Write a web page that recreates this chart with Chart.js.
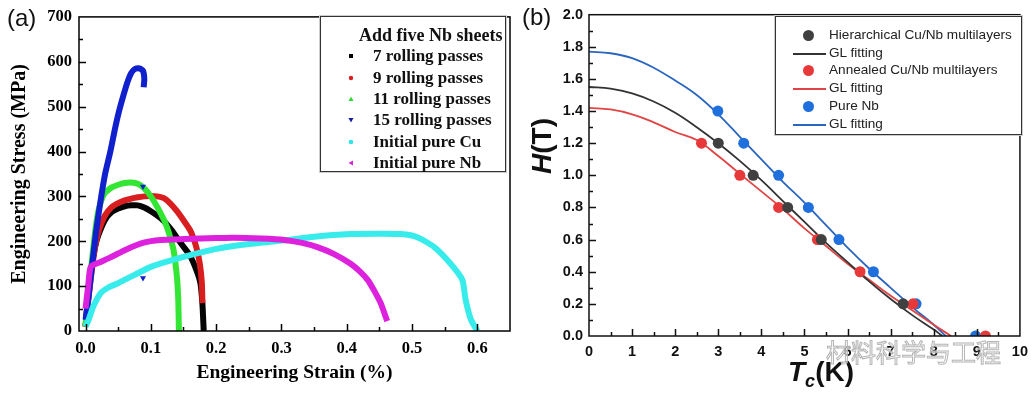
<!DOCTYPE html>
<html>
<head>
<meta charset="utf-8">
<script src="https://cdn.jsdelivr.net/npm/chart.js@4.4.0/dist/chart.umd.min.js"></script>
<style>
  body { margin: 0; background: #fff; }
  #wrap { position: relative; width: 1035px; height: 397px; overflow: hidden; }
  canvas { position: absolute; top: 0; }
  .lab { position: absolute; font-family: 'Liberation Sans', Arial, sans-serif; font-size: 24px; color: #111; }
  .leg { position: absolute; background: #fff; border: 1px solid #333; box-shadow: 0 0 0 1px #ccc; }
  .legA .row { position: absolute; left: 52px; height: 20px; line-height: 20px; font: bold 17px 'Liberation Serif', serif; color: #111; white-space: nowrap; }
  .legA .ttl { position: absolute; left: 38px; top: 8px; font: bold 18px 'Liberation Serif', serif; color: #111; white-space: nowrap; }
  .legA svg { position: absolute; left: 26px; width: 8px; height: 8px; }
  .legB .row { position: absolute; left: 53px; height: 18px; line-height: 18px; font: 13.6px 'Liberation Sans', Arial, sans-serif; color: #222; white-space: nowrap; }
  .legB .dot { position: absolute; left: 27px; width: 11px; height: 11px; border-radius: 50%; }
  .legB .ln { position: absolute; left: 17px; width: 33px; height: 2px; }
  .ttlB { position: absolute; font: bold 28px 'Liberation Sans', Arial, sans-serif; color: #111; white-space: nowrap; }
  .wm { position: absolute; left: 826px; top: 333px; font: 25px 'Noto Sans CJK SC', sans-serif; color: rgba(255,255,255,0.6); -webkit-text-stroke: 1px #b5b5b5; white-space: nowrap; letter-spacing: 0px; }
</style>
</head>
<body>
<div id="wrap">
  <canvas id="chartA" width="520" height="397" style="left:0"></canvas>
  <canvas id="chartB" width="515" height="397" style="left:520px"></canvas>

  <div class="lab" style="left:7px;top:4px">(a)</div>
  <div class="lab" style="left:522px;top:3px">(b)</div>

  <div class="leg legA" style="left:320px;top:16px;width:184px;height:154px">
    <div class="ttl">Add five Nb sheets</div>
    <svg style="top:35px" viewBox="0 0 8 8"><rect x="2" y="2" width="4" height="4" fill="#000"/></svg>
    <div class="row" style="top:29px">7 rolling passes</div>
    <svg style="top:57px" viewBox="0 0 8 8"><circle cx="4" cy="4" r="2.2" fill="#d81e1e"/></svg>
    <div class="row" style="top:51px">9 rolling passes</div>
    <svg style="top:78px" viewBox="0 0 8 8"><polygon points="4,1.5 6.5,6 1.5,6" fill="#2fdc2f"/></svg>
    <div class="row" style="top:72px">11 rolling passes</div>
    <svg style="top:99px" viewBox="0 0 8 8"><polygon points="1.5,2 6.5,2 4,6.5" fill="#151a9a"/></svg>
    <div class="row" style="top:93px">15 rolling passes</div>
    <svg style="top:121px" viewBox="0 0 8 8"><circle cx="4" cy="4" r="2.3" fill="#2ee6e6"/></svg>
    <div class="row" style="top:115px">Initial pure Cu</div>
    <svg style="top:142px" viewBox="0 0 8 8"><polygon points="1.5,4 6,1.5 6,6.5" fill="#d524d5"/></svg>
    <div class="row" style="top:136px">Initial pure Nb</div>
  </div>

  <div class="leg legB" style="left:775px;top:16px;width:245px;height:117px">
    <div class="dot" style="top:13px;background:#404040"></div>
    <div class="row" style="top:10px">Hierarchical Cu/Nb multilayers</div>
    <div class="ln" style="top:36px;background:#333"></div>
    <div class="row" style="top:28px">GL fitting</div>
    <div class="dot" style="top:48px;background:#e8393a"></div>
    <div class="row" style="top:45px">Annealed Cu/Nb multilayers</div>
    <div class="ln" style="top:71px;background:#e04444"></div>
    <div class="row" style="top:63px">GL fitting</div>
    <div class="dot" style="top:84px;background:#1f6fdc"></div>
    <div class="row" style="top:81px">Pure Nb</div>
    <div class="ln" style="top:107px;background:#2a66c0"></div>
    <div class="row" style="top:99px">GL fitting</div>
  </div>

  <div class="ttlB" style="left:514px;top:130px;transform:rotate(-90deg);transform-origin:28px 16px"><i>H</i>(T)</div>
  <div class="ttlB" style="left:788px;top:356px"><i>T</i><sub style="font-size:18px;vertical-align:-6px"><i>c</i></sub>(K)</div>

  <div class="wm">材料科学与工程</div>
</div>

<script>
// panel (a): engineering strain (%) vs engineering stress (MPa), [strain, stress]
const pass7 = [[0,10],[0.005,90],[0.01,150],[0.015,190],[0.02,215],[0.03,248],[0.04,265],[0.05,273],[0.06,278],[0.07,280],[0.08,280],[0.09,275],[0.1,267],[0.11,257],[0.12,245],[0.13,228],[0.14,208],[0.15,188],[0.16,168],[0.17,135],[0.176,106],[0.179,60],[0.181,0]]
const pass9 = [[0,10],[0.005,80],[0.01,140],[0.015,190],[0.02,222],[0.03,258],[0.04,276],[0.05,285],[0.06,291],[0.07,295],[0.08,298],[0.09,300],[0.1,301],[0.11,300],[0.12,296],[0.13,284],[0.14,267],[0.15,247],[0.16,225],[0.165,208],[0.17,185],[0.175,150],[0.178,110],[0.179,62]]
const pass11 = [[0,10],[0.005,90],[0.01,160],[0.015,225],[0.02,270],[0.026,298],[0.03,308],[0.04,320],[0.05,326],[0.06,330],[0.07,331],[0.08,328],[0.09,318],[0.1,300],[0.11,276],[0.12,248],[0.125,230],[0.13,207],[0.135,179],[0.14,120],[0.142,70],[0.143,0]]
const pass15 = [[0,25],[0.005,80],[0.01,145],[0.016,220],[0.023,290],[0.03,350],[0.038,400],[0.045,450],[0.051,488],[0.058,525],[0.064,554],[0.07,575],[0.076,584],[0.083,585],[0.088,580],[0.09,562],[0.089,543]]
const pass15Marks = [[0.088,322],[0.088,118]]
const pureCu = [[0,10],[0.005,26],[0.012,55],[0.023,84],[0.035,97],[0.049,106],[0.075,125],[0.1,143],[0.15,165],[0.2,183],[0.25,194],[0.304,202],[0.35,210],[0.406,216],[0.45,217],[0.483,216],[0.508,209],[0.534,187],[0.559,150],[0.577,114],[0.582,70],[0.59,26],[0.6,0]]
const pureNb = [[0,50],[0.004,100],[0.008,143],[0.02,152],[0.038,164],[0.064,183],[0.089,197],[0.115,203],[0.151,205],[0.2,207],[0.227,208],[0.27,206],[0.304,203],[0.33,197],[0.355,187],[0.38,172],[0.406,150],[0.42,133],[0.432,114],[0.442,90],[0.452,62],[0.462,22]]
const xTicksA = [0, 0.1, 0.2, 0.3, 0.4, 0.5, 0.6]
const yTicksA = [0, 100, 200, 300, 400, 500, 600, 700]

// panel (b): Tc (K) vs H (T)
const hierT = [3.0, 3.81, 4.61, 5.39, 7.29]
const hierH = [1.2, 1.0, 0.8, 0.6, 0.2]
const annT = [2.61, 3.5, 4.4, 5.3, 6.29, 7.52, 9.2]
const annH = [1.2, 1.0, 0.8, 0.6, 0.4, 0.2, 0]
const nbT = [2.99, 3.59, 4.4, 5.09, 5.8, 6.6, 7.59, 8.97]
const nbH = [1.4, 1.2, 1.0, 0.8, 0.6, 0.4, 0.2, 0]
const fitT = [0, 0.5, 1, 1.5, 2, 2.5, 3, 3.5, 4, 4.5, 5, 5.5, 6, 6.5, 7, 7.5, 8]
const hierFitT = fitT.concat([8.2])
const hierFitH = [1.55, 1.54, 1.51, 1.46, 1.39, 1.30, 1.20, 1.09, 0.97, 0.84, 0.71, 0.58, 0.46, 0.34, 0.23, 0.13, 0.04, 0]
const annFitT = fitT.concat([8.4])
const annFitH = [1.42, 1.41, 1.38, 1.33, 1.27, 1.22, 1.12, 1.01, 0.90, 0.79, 0.67, 0.56, 0.45, 0.35, 0.25, 0.16, 0.07, 0]
const nbFitT = fitT.concat([8.28])
const nbFitH = [1.77, 1.76, 1.73, 1.67, 1.59, 1.50, 1.38, 1.24, 1.10, 0.96, 0.83, 0.69, 0.55, 0.42, 0.30, 0.18, 0.07, 0]
const xTicksB = [0, 1, 2, 3, 4, 5, 6, 7, 8, 9, 10]
const yTicksB = [0, 0.2, 0.4, 0.6, 0.8, 1.0, 1.2, 1.4, 1.6, 1.8, 2.0]

function pairs(arr) { return arr.map(p => ({x: p[0], y: p[1]})) }
function zip(xs, ys) { return xs.map((x, i) => ({x: x, y: ys[i]})) }

// box round the plot and inward ticks (major + minor)
const innerTicks = {
    id: 'innerTicks',
    afterDatasetsDraw(chart, args, o) {
        const {ctx, chartArea: a, scales} = chart
        ctx.save()
        ctx.strokeStyle = o.color
        ctx.lineWidth = o.width
        ctx.strokeRect(a.left, a.top, a.right - a.left, a.bottom - a.top)
        ctx.beginPath()
        const nx = Math.round((o.xMax - o.xMin) / o.xMinor)
        for (let i = 0; i <= nx; i++) {
            const px = Math.round(scales.x.getPixelForValue(o.xMin + i * o.xMinor)) + 0.5
            if (px <= a.left + 1 || px >= a.right - 1) continue
            const len = i % 2 === 0 ? o.major : o.minor
            ctx.moveTo(px, a.bottom)
            ctx.lineTo(px, a.bottom - len)
        }
        const ny = Math.round((o.yMax - o.yMin) / o.yMinor)
        for (let i = 0; i <= ny; i++) {
            const py = Math.round(scales.y.getPixelForValue(o.yMin + i * o.yMinor)) + 0.5
            if (py <= a.top + 1 || py >= a.bottom - 1) continue
            const len = i % 2 === 0 ? o.major : o.minor
            ctx.moveTo(a.left, py)
            ctx.lineTo(a.left + len, py)
        }
        ctx.stroke()
        ctx.restore()
    }
}

function curve(arr, color, order) {
    return {
        data: pairs(arr),
        borderColor: color,
        backgroundColor: color,
        showLine: true,
        borderWidth: 6,
        pointRadius: 0,
        tension: 0.2,
        order: order
    }
}

const serifBold = {family: "'Liberation Serif', 'Times New Roman', serif", weight: 'bold', size: 16.5}

let chartA = new Chart(document.getElementById('chartA'), {
    type: 'scatter',
    data: {
        datasets: [
            curve(pass7, '#050505', 6),
            curve(pass9, '#d81e1e', 5),
            curve(pass11, '#33e633', 4),
            curve(pass15, '#1020cc', 3),
            {
                data: pairs(pass15Marks),
                pointStyle: 'triangle',
                rotation: 180,
                pointRadius: 3.5,
                backgroundColor: '#1020cc',
                borderWidth: 0,
                order: 3
            },
            curve(pureCu, '#38ecec', 2),
            curve(pureNb, '#dd22dd', 1)
        ]
    },
    options: {
        responsive: false,
        animation: false,
        layout: { padding: { top: 14, right: 10, left: 0, bottom: 0 } },
        plugins: {
            legend: { display: false },
            tooltip: { enabled: false },
            innerTicks: { color: '#000', width: 1.5, xMin: 0, xMax: 0.65, xMinor: 0.05, yMin: 0, yMax: 700, yMinor: 50, major: 7, minor: 4 }
        },
        scales: {
            x: {
                type: 'linear',
                min: -0.01,
                max: 0.65,
                afterBuildTicks: s => { s.ticks = xTicksA.map(v => ({value: v})) },
                afterFit: s => { s.height = 66 },
                grid: { display: false, drawTicks: false },
                border: { display: false },
                ticks: { color: '#000', font: serifBold, padding: 8, maxRotation: 0, autoSkip: false, callback: v => v.toFixed(1) },
                title: { display: true, text: 'Engineering Strain (%)', color: '#000', font: {family: serifBold.family, weight: 'bold', size: 19.5}, padding: {top: 0, bottom: 12} }
            },
            y: {
                min: 0,
                max: 700,
                afterBuildTicks: s => { s.ticks = yTicksA.map(v => ({value: v})) },
                afterFit: s => { s.width = 79 },
                grid: { display: false, drawTicks: false },
                border: { display: false },
                ticks: { color: '#000', font: serifBold, padding: 7, autoSkip: false, callback: v => String(v) },
                title: { display: true, text: 'Engineering Stress (MPa)', color: '#000', font: {family: serifBold.family, weight: 'bold', size: 20}, padding: {top: 8, bottom: 0} }
            }
        }
    },
    plugins: [innerTicks]
})

function dots(xs, ys, color, order) {
    return { data: zip(xs, ys), backgroundColor: color, borderWidth: 0, pointRadius: 5.5, order: order }
}
function fit(xs, ys, color, order) {
    return { data: zip(xs, ys), borderColor: color, showLine: true, borderWidth: 1.8, pointRadius: 0, tension: 0.4, order: order }
}

const sansBold = {family: "'Liberation Sans', Arial, sans-serif", weight: 'bold', size: 14.5}

let chartB = new Chart(document.getElementById('chartB'), {
    type: 'scatter',
    data: {
        datasets: [
            dots(hierT, hierH, '#404040', 1),
            fit(hierFitT, hierFitH, '#333333', 4),
            dots(annT, annH, '#e8393a', 2),
            fit(annFitT, annFitH, '#e04444', 5),
            dots(nbT, nbH, '#1f6fdc', 3),
            fit(nbFitT, nbFitH, '#2a66c0', 6)
        ]
    },
    options: {
        responsive: false,
        animation: false,
        layout: { padding: { top: 13, right: 10, left: 0, bottom: 0 } },
        plugins: {
            legend: { display: false },
            tooltip: { enabled: false },
            innerTicks: { color: '#111', width: 1.5, xMin: 0, xMax: 10, xMinor: 0.5, yMin: 0, yMax: 2, yMinor: 0.1, major: 7, minor: 4 }
        },
        scales: {
            x: {
                type: 'linear',
                min: 0,
                max: 10,
                afterBuildTicks: s => { s.ticks = xTicksB.map(v => ({value: v})) },
                afterFit: s => { s.height = 61 },
                grid: { display: false, drawTicks: false },
                border: { display: false },
                ticks: { color: '#111', font: sansBold, padding: 7, maxRotation: 0, autoSkip: false, callback: v => String(v) }
            },
            y: {
                min: 0,
                max: 2,
                afterBuildTicks: s => { s.ticks = yTicksB.map(v => ({value: v})) },
                afterFit: s => { s.width = 69 },
                grid: { display: false, drawTicks: false },
                border: { display: false },
                ticks: { color: '#111', font: sansBold, padding: 6, autoSkip: false, callback: v => v.toFixed(1) }
            }
        }
    },
    plugins: [innerTicks]
})
</script>
</body>
</html>
